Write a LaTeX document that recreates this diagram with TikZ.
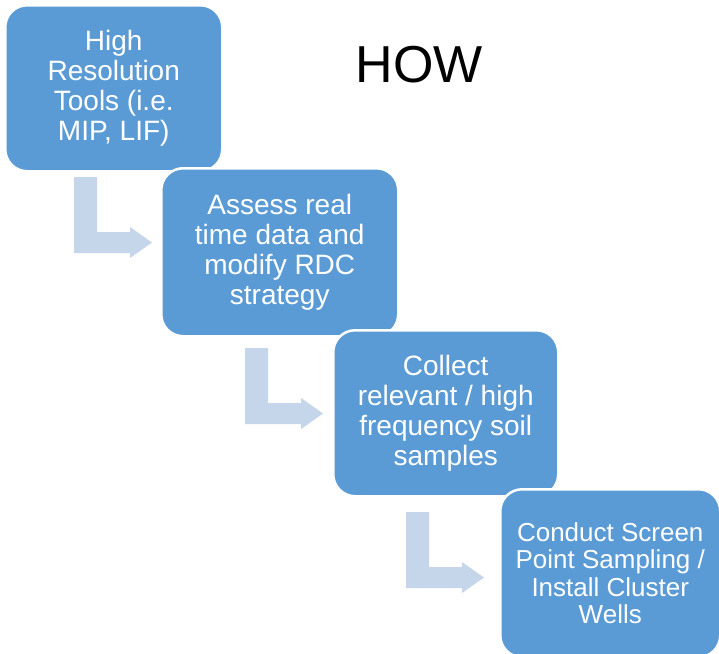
\documentclass[tikz,border=0pt]{standalone}
\usepackage{fontspec}
\setmainfont{Liberation Sans}
\definecolor{boxblue}{RGB}{91,155,213}
\definecolor{arrowblue}{RGB}{197,213,234}
\tikzset{
  stepbox/.style={draw=white, line width=2.5pt, fill=boxblue, rounded corners=22pt,
    anchor=north west, text=white, align=center, inner sep=0pt,
    font=\fontsize{28}{30}\selectfont},
  bentarrow/.pic={
    \fill[arrowblue] (0,0) -- (23,0) -- (23,55) -- (56,55) -- (56,50) -- (78,65.5)
      -- (56,81) -- (56,76) -- (0,76) -- cycle;
  }
}
\begin{document}
\begin{tikzpicture}[x=1pt,y=-1pt]
\useasboundingbox[fill=white] (0,0) rectangle (719,653);
\begin{scope}
\clip (0,0) rectangle (719,653);
\node[font=\fontsize{52}{56}\selectfont, anchor=base] (how) at (419.5,82) {HOW};
\coordinate (a1) at (74,177);
\coordinate (a2) at (245,348);
\coordinate (a3) at (406,512);
\pic at (a1) {bentarrow};
\pic at (a2) {bentarrow};
\pic at (a3) {bentarrow};
\node[stepbox, minimum width=217pt, minimum height=166pt] (b1) at (4,4)
  {High\\Resolution\\Tools (i.e.\\MIP, LIF)};
\node[stepbox, minimum width=237pt, minimum height=168pt] (b2) at (160,167)
  {Assess real\\time data and\\modify RDC\\strategy};
\node[stepbox, minimum width=225pt, minimum height=166pt] (b3) at (332,329)
  {Collect\\relevant / high\\frequency soil\\samples};
\node[stepbox, minimum width=220pt, minimum height=168pt, font=\fontsize{26}{27.5}\selectfont] (b4) at (499,488)
  {Conduct Screen\\Point Sampling /\\Install Cluster\\Wells};
\end{scope}
\end{tikzpicture}
\end{document}
